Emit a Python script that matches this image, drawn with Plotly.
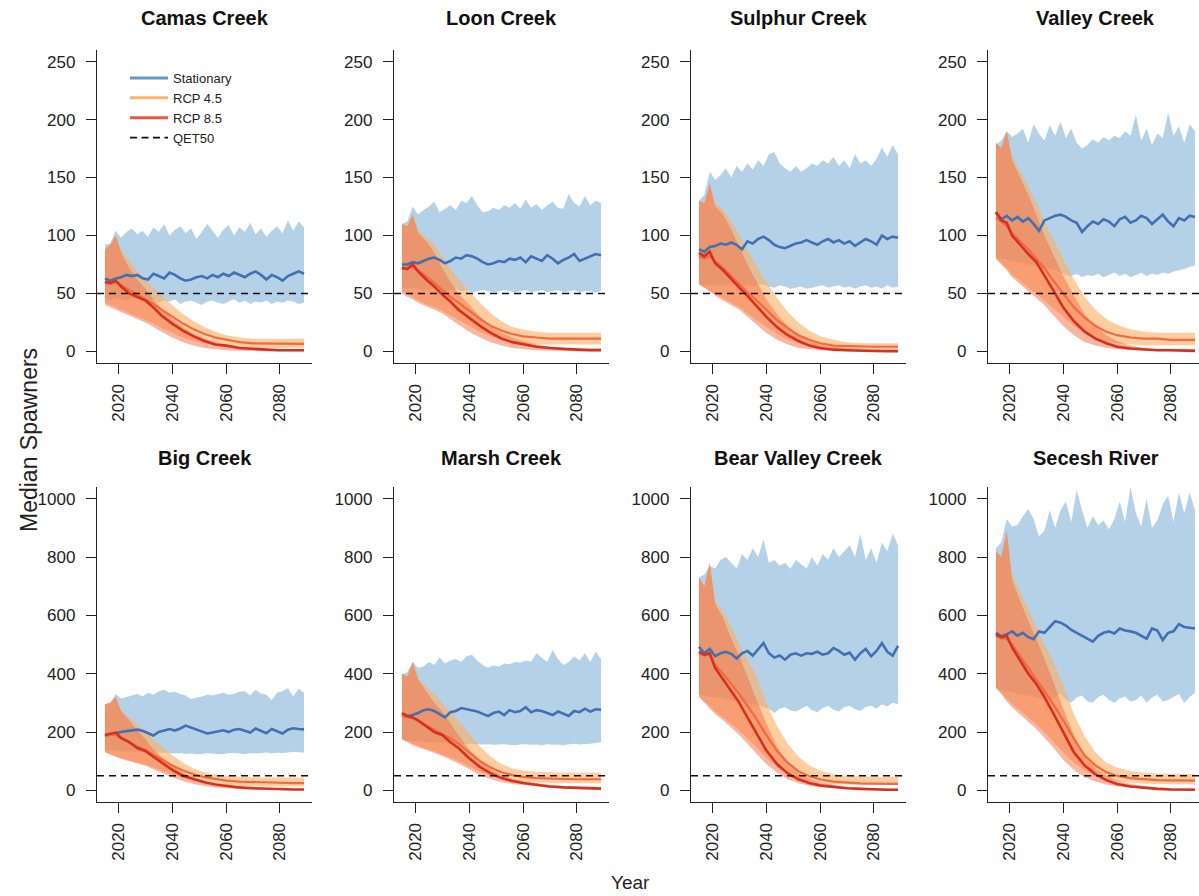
import plotly.graph_objects as go

# ---------------- data ----------------
STAT_YEARS = list(range(2015, 2090, 2))  # 38 years
RCP_YEARS = [2015, 2017, 2019, 2021, 2024, 2027, 2030, 2033, 2036, 2040,
             2044, 2048, 2052, 2056, 2060, 2065, 2070, 2075, 2080, 2085, 2089]

PANEL_NAMES = ["Camas Creek", "Loon Creek", "Sulphur Creek", "Valley Creek",
               "Big Creek", "Marsh Creek", "Bear Valley Creek", "Secesh River"]
QET50 = 50
TOP_YTICKS = [0, 50, 100, 150, 200, 250]
BOT_YTICKS = [0, 200, 400, 600, 800, 1000]
XTICKS = [2020, 2040, 2060, 2080]

# Camas Creek
CAMAS_STAT_MED = [63, 61, 63, 64, 66, 65, 66, 63, 62, 67, 65, 63, 68, 66, 63, 61, 62, 64, 65, 63,
                  66, 64, 67, 65, 68, 66, 64, 67, 69, 66, 62, 66, 64, 61, 65, 67, 69, 67]
CAMAS_STAT_HI = [92, 93, 104, 98, 103, 106, 101, 104, 99, 107, 103, 110, 100, 105, 108, 102, 106, 97, 103, 110,
                 104, 98, 105, 109, 100, 107, 103, 111, 101, 106, 99, 104, 108, 102, 113, 104, 112, 107]
CAMAS_STAT_LO = [45, 44, 46, 45, 44, 46, 45, 43, 44, 45, 42, 44, 43, 45, 41, 43, 44, 42, 40, 43,
                 44, 42, 41, 43, 45, 42, 44, 41, 43, 42, 44, 41, 43, 42, 44, 43, 41, 42]
CAMAS_R85_MED = [60, 59, 61, 56, 50, 47, 44, 38, 31, 24, 18, 13, 9, 6, 5, 3, 2, 1.5, 1, 1, 1]
CAMAS_R45_MED = [59, 58, 60, 57, 53, 49, 45, 41, 36, 30, 24, 19, 15, 12, 10, 8, 7, 7, 7, 6.5, 6.5]
CAMAS_R85_HI = [88, 92, 100, 85, 72, 62, 54, 45, 37, 28, 21, 15, 11, 8, 6, 4, 3, 2.5, 2, 2, 2]
CAMAS_R45_HI = [88, 92, 100, 88, 78, 69, 62, 55, 48, 40, 32, 26, 21, 17, 14, 12, 11, 11, 11, 11, 11]
CAMAS_R85_LO = [40, 38, 36, 34, 31, 28, 25, 21, 17, 12, 8, 5, 3, 2, 1, 0.5, 0.3, 0.2, 0.1, 0.1, 0.1]
CAMAS_R45_LO = [42, 40, 38, 36, 33, 30, 27, 24, 20, 16, 12, 9, 7, 5, 4, 3.5, 3, 3, 3, 3, 3]

# Loon Creek
LOON_STAT_MED = [75, 75, 77, 76, 78, 80, 81, 79, 76, 78, 81, 80, 83, 82, 80, 77, 75, 76, 78, 77,
                 80, 79, 81, 77, 82, 80, 78, 83, 80, 76, 79, 81, 84, 78, 80, 82, 84, 83]
LOON_STAT_HI = [110, 112, 125, 118, 122, 125, 129, 120, 123, 126, 122, 130, 128, 134, 126, 120, 121, 124, 122, 126,
                124, 128, 123, 131, 124, 127, 122, 126, 129, 124, 123, 136, 128, 125, 134, 126, 130, 128]
LOON_STAT_LO = [55, 54, 55, 54, 53, 54, 55, 53, 52, 53, 54, 52, 53, 51, 52, 53, 52, 51, 52, 53,
                52, 51, 52, 53, 51, 52, 53, 51, 52, 53, 51, 52, 53, 51, 52, 52, 51, 52]
LOON_R85_MED = [72, 71, 75, 69, 62, 56, 49, 43, 36, 29, 22, 16, 11, 8, 6, 4, 3, 2, 1.5, 1, 1]
LOON_R45_MED = [72, 72, 73, 70, 65, 59, 53, 47, 42, 35, 28, 22, 18, 15, 13, 12, 11, 11, 11, 11, 11]
LOON_R85_HI = [110, 108, 118, 102, 95, 85, 72, 60, 50, 40, 30, 22, 16, 12, 9, 6, 4, 3, 3, 3, 3]
LOON_R45_HI = [110, 108, 118, 105, 98, 92, 82, 72, 62, 52, 42, 33, 26, 21, 19, 17, 16, 16, 16, 16, 16]
LOON_R85_LO = [50, 47, 45, 42, 39, 36, 33, 28, 23, 17, 12, 8, 5, 3, 2, 1, 0.5, 0.3, 0.2, 0.2, 0.2]
LOON_R45_LO = [52, 49, 47, 44, 41, 38, 35, 31, 27, 22, 17, 13, 10, 8, 7, 6, 6, 6, 6, 6, 6]

# Sulphur Creek
SULPHUR_STAT_MED = [88, 86, 90, 91, 93, 92, 94, 92, 88, 95, 93, 97, 99, 96, 92, 90, 89, 91, 93, 94,
                    96, 94, 92, 95, 97, 94, 96, 93, 95, 91, 94, 97, 95, 92, 100, 97, 99, 98]
SULPHUR_STAT_HI = [130, 135, 155, 148, 152, 158, 150, 160, 155, 162, 157, 165, 160, 170, 172, 162, 158, 155, 160, 155,
                   158, 162, 160, 165, 162, 168, 160, 165, 158, 170, 162, 165, 160, 166, 176, 168, 178, 170]
SULPHUR_STAT_LO = [58, 57, 58, 57, 56, 57, 58, 56, 57, 58, 56, 57, 58, 56, 55, 57, 56, 54, 55, 56,
                   54, 55, 56, 57, 55, 56, 57, 55, 56, 54, 56, 57, 55, 56, 54, 57, 55, 56]
SULPHUR_R85_MED = [85, 82, 86, 76, 70, 62, 55, 48, 40, 30, 21, 14, 9, 5, 3, 1.5, 1, 0.5, 0.3, 0.2, 0.2]
SULPHUR_R45_MED = [82, 80, 82, 78, 72, 65, 58, 51, 45, 36, 27, 20, 14, 10, 7, 5, 4.5, 4, 4, 4, 4]
SULPHUR_R85_HI = [130, 128, 145, 125, 118, 105, 90, 75, 62, 45, 32, 22, 14, 9, 6, 4, 3, 2, 2, 2, 2]
SULPHUR_R45_HI = [130, 128, 145, 128, 122, 112, 100, 88, 75, 60, 46, 34, 25, 18, 13, 10, 8, 7, 7, 7, 7]
SULPHUR_R85_LO = [58, 55, 52, 48, 44, 40, 36, 30, 24, 16, 10, 6, 3, 2, 1, 0.5, 0.2, 0.1, 0.1, 0.1, 0.1]
SULPHUR_R45_LO = [58, 55, 52, 49, 46, 42, 38, 33, 28, 21, 15, 10, 7, 5, 3, 2, 2, 2, 2, 2, 2]

# Valley Creek
VALLEY_STAT_MED = [120, 114, 117, 113, 116, 112, 115, 110, 104, 113, 115, 117, 118, 116, 113, 111, 103, 108, 112, 110,
                   114, 112, 108, 114, 116, 111, 113, 117, 115, 110, 114, 118, 112, 108, 115, 113, 117, 116]
VALLEY_STAT_HI = [178, 182, 190, 185, 188, 192, 180, 196, 188, 182, 195, 186, 198, 184, 192, 180, 175, 178, 183, 180,
                  185, 182, 186, 184, 190, 186, 204, 182, 192, 178, 188, 184, 206, 186, 194, 180, 196, 190]
VALLEY_STAT_LO = [82, 80, 79, 78, 77, 76, 75, 74, 73, 72, 71, 70, 68, 66, 65, 67, 64, 66, 65, 67,
                  64, 66, 68, 65, 67, 64, 66, 68, 65, 67, 66, 68, 67, 69, 70, 71, 73, 74]
VALLEY_R85_MED = [120, 113, 111, 100, 92, 84, 77, 66, 54, 38, 26, 17, 11, 7, 4, 2.5, 1.5, 1, 1, 0.5, 0.5]
VALLEY_R45_MED = [115, 112, 108, 102, 95, 88, 80, 72, 62, 50, 38, 29, 22, 17, 14, 12, 11, 11, 10, 10, 10]
VALLEY_R85_HI = [180, 175, 190, 165, 150, 135, 118, 100, 85, 65, 48, 32, 22, 14, 9, 5, 3, 2, 2, 2, 2]
VALLEY_R45_HI = [180, 175, 190, 168, 155, 142, 128, 112, 98, 80, 62, 47, 36, 28, 23, 19, 17, 16, 16, 16, 16]
VALLEY_R85_LO = [80, 75, 70, 64, 58, 52, 46, 40, 32, 22, 14, 8, 5, 3, 2, 1, 0.5, 0.3, 0.2, 0.2, 0.2]
VALLEY_R45_LO = [80, 76, 72, 66, 61, 55, 50, 44, 38, 30, 22, 16, 11, 8, 7, 6, 5, 5, 5, 5, 5]

# Big Creek
BIG_STAT_MED = [188, 192, 198, 200, 203, 205, 208, 204, 195, 188, 200, 206, 210, 205, 212, 222, 215, 208, 200, 195,
                198, 203, 206, 200, 208, 210, 203, 198, 212, 204, 196, 210, 202, 195, 208, 213, 210, 209]
BIG_STAT_HI = [295, 300, 330, 315, 320, 325, 330, 322, 335, 328, 340, 345, 335, 338, 330, 325, 312, 318, 322, 328,
               325, 330, 335, 328, 330, 338, 340, 325, 345, 332, 328, 310, 335, 340, 350, 322, 348, 335]
BIG_STAT_LO = [140, 138, 136, 135, 134, 133, 132, 131, 130, 130, 129, 128, 127, 126, 128, 125, 126, 124, 125, 127,
               126, 124, 125, 127, 128, 126, 125, 127, 126, 128, 130, 127, 129, 128, 130, 132, 131, 130]
BIG_R85_MED = [190, 195, 198, 180, 165, 145, 135, 115, 95, 70, 50, 38, 28, 20, 15, 10, 7, 5, 4, 3, 3]
BIG_R45_MED = [185, 190, 190, 178, 165, 150, 138, 122, 105, 85, 68, 55, 45, 38, 33, 30, 28, 27, 26, 25, 25]
BIG_R85_HI = [295, 300, 320, 270, 240, 205, 175, 140, 115, 85, 60, 42, 30, 22, 16, 11, 8, 6, 5, 5, 5]
BIG_R45_HI = [295, 300, 320, 275, 250, 225, 200, 175, 150, 120, 95, 75, 62, 55, 50, 47, 45, 44, 44, 44, 44]
BIG_R85_LO = [130, 122, 115, 108, 100, 92, 84, 72, 60, 45, 32, 22, 15, 10, 7, 4, 3, 2, 1, 1, 1]
BIG_R45_LO = [132, 125, 118, 110, 103, 96, 88, 78, 68, 55, 42, 32, 25, 20, 17, 15, 14, 13, 13, 13, 13]

# Marsh Creek
MARSH_STAT_MED = [262, 255, 258, 265, 275, 278, 272, 262, 250, 268, 272, 282, 278, 276, 270, 262, 255, 265, 270, 258,
                  275, 268, 272, 285, 268, 275, 272, 265, 258, 270, 262, 255, 272, 268, 280, 270, 278, 276]
MARSH_STAT_HI = [398, 405, 440, 420, 425, 440, 430, 455, 435, 445, 450, 440, 460, 465, 445, 430, 420, 428, 425, 435,
                 432, 440, 438, 445, 442, 470, 455, 440, 480, 450, 430, 440, 460, 445, 470, 440, 475, 450]
MARSH_STAT_LO = [175, 172, 170, 168, 167, 166, 165, 164, 163, 162, 161, 160, 159, 160, 158, 157, 158, 156, 157, 158,
                 156, 155, 157, 158, 156, 157, 155, 158, 156, 157, 155, 158, 160, 157, 159, 160, 162, 165]
MARSH_R85_MED = [265, 255, 250, 240, 220, 200, 190, 165, 145, 110, 80, 58, 42, 32, 25, 18, 13, 10, 8, 6, 6]
MARSH_R45_MED = [255, 250, 248, 238, 225, 210, 195, 178, 160, 130, 100, 78, 62, 52, 46, 42, 40, 38, 38, 38, 38]
MARSH_R85_HI = [400, 390, 440, 380, 340, 300, 270, 230, 190, 140, 100, 72, 52, 40, 32, 24, 18, 14, 12, 10, 10]
MARSH_R45_HI = [400, 390, 440, 385, 355, 330, 300, 270, 240, 195, 150, 115, 90, 75, 68, 64, 62, 60, 60, 60, 60]
MARSH_R85_LO = [175, 165, 155, 148, 138, 128, 118, 105, 92, 72, 52, 38, 28, 22, 18, 13, 10, 7, 5, 4, 4]
MARSH_R45_LO = [175, 168, 160, 152, 142, 133, 123, 112, 100, 82, 64, 50, 40, 34, 30, 27, 25, 24, 24, 24, 24]

# Bear Valley Creek
BEAR_STAT_MED = [492, 470, 485, 460, 470, 475, 468, 452, 470, 478, 462, 485, 505, 470, 455, 462, 448, 465, 470, 462,
                 470, 468, 475, 465, 470, 488, 478, 465, 472, 448, 470, 485, 460, 478, 505, 475, 462, 495]
BEAR_STAT_HI = [730, 740, 770, 760, 790, 800, 780, 760, 810, 790, 830, 800, 860, 780, 790, 770, 780, 760, 790, 775,
                760, 800, 770, 810, 790, 830, 800, 820, 840, 800, 880, 790, 830, 780, 850, 820, 880, 840]
BEAR_STAT_LO = [330, 325, 320, 318, 315, 312, 310, 305, 300, 298, 295, 290, 285, 280, 265, 280, 285, 275, 270, 280,
                290, 275, 268, 282, 290, 276, 270, 285, 290, 278, 272, 286, 290, 280, 295, 288, 300, 295]
BEAR_R85_MED = [475, 465, 470, 420, 380, 340, 300, 250, 200, 137, 90, 58, 38, 25, 17, 11, 7, 5, 3, 2, 2]
BEAR_R45_MED = [470, 462, 465, 430, 400, 365, 330, 290, 250, 190, 135, 95, 65, 48, 38, 30, 26, 24, 23, 22, 22]
BEAR_R85_HI = [730, 700, 780, 640, 590, 520, 460, 390, 320, 230, 150, 95, 60, 40, 28, 18, 12, 9, 7, 6, 6]
BEAR_R45_HI = [730, 700, 780, 650, 610, 560, 500, 450, 400, 300, 220, 160, 115, 85, 68, 56, 50, 48, 47, 46, 46]
BEAR_R85_LO = [320, 300, 280, 262, 240, 215, 190, 160, 130, 90, 60, 38, 24, 16, 11, 7, 5, 3, 2, 2, 2]
BEAR_R45_LO = [325, 305, 290, 270, 250, 228, 205, 178, 150, 112, 80, 58, 42, 32, 26, 21, 19, 18, 18, 18, 18]

# Secesh River
SECESH_STAT_MED = [540, 528, 535, 545, 530, 540, 525, 518, 545, 540, 560, 580, 575, 565, 550, 540, 528, 520, 510, 530,
                   540, 545, 538, 555, 548, 545, 540, 530, 520, 555, 548, 515, 540, 545, 570, 560, 558, 555]
SECESH_STAT_HI = [830, 850, 930, 905, 910, 940, 965, 930, 870, 890, 960, 900, 960, 990, 920, 1030, 960, 900, 940, 910,
                  925, 895, 930, 990, 920, 1040, 950, 905, 1000, 900, 925, 980, 1010, 920, 1020, 950, 1020, 960]
SECESH_STAT_LO = [350, 345, 340, 336, 332, 328, 325, 320, 316, 313, 310, 320, 330, 310, 300, 318, 325, 305, 300, 320,
                  328, 310, 300, 315, 322, 305, 310, 325, 300, 318, 328, 305, 310, 320, 330, 300, 320, 335]
SECESH_R85_MED = [535, 525, 530, 490, 445, 400, 365, 320, 270, 200, 130, 85, 55, 35, 22, 13, 8, 5, 3, 2, 2]
SECESH_R45_MED = [530, 520, 520, 500, 460, 420, 380, 340, 300, 240, 175, 120, 85, 62, 50, 42, 38, 35, 34, 33, 33]
SECESH_R85_HI = [820, 800, 890, 720, 650, 580, 520, 450, 380, 280, 190, 120, 75, 50, 35, 22, 15, 10, 8, 7, 7]
SECESH_R45_HI = [820, 800, 890, 740, 680, 620, 560, 500, 450, 360, 260, 185, 130, 95, 78, 66, 60, 58, 57, 56, 56]
SECESH_R85_LO = [350, 330, 305, 285, 260, 235, 210, 180, 150, 105, 70, 45, 30, 20, 14, 9, 6, 4, 3, 2, 2]
SECESH_R45_LO = [355, 335, 315, 295, 275, 250, 225, 200, 170, 130, 95, 68, 50, 38, 31, 26, 23, 22, 21, 21, 21]

PANELS = [
    (CAMAS_STAT_MED, CAMAS_STAT_HI, CAMAS_STAT_LO, CAMAS_R45_MED, CAMAS_R45_HI, CAMAS_R45_LO, CAMAS_R85_MED, CAMAS_R85_HI, CAMAS_R85_LO),
    (LOON_STAT_MED, LOON_STAT_HI, LOON_STAT_LO, LOON_R45_MED, LOON_R45_HI, LOON_R45_LO, LOON_R85_MED, LOON_R85_HI, LOON_R85_LO),
    (SULPHUR_STAT_MED, SULPHUR_STAT_HI, SULPHUR_STAT_LO, SULPHUR_R45_MED, SULPHUR_R45_HI, SULPHUR_R45_LO, SULPHUR_R85_MED, SULPHUR_R85_HI, SULPHUR_R85_LO),
    (VALLEY_STAT_MED, VALLEY_STAT_HI, VALLEY_STAT_LO, VALLEY_R45_MED, VALLEY_R45_HI, VALLEY_R45_LO, VALLEY_R85_MED, VALLEY_R85_HI, VALLEY_R85_LO),
    (BIG_STAT_MED, BIG_STAT_HI, BIG_STAT_LO, BIG_R45_MED, BIG_R45_HI, BIG_R45_LO, BIG_R85_MED, BIG_R85_HI, BIG_R85_LO),
    (MARSH_STAT_MED, MARSH_STAT_HI, MARSH_STAT_LO, MARSH_R45_MED, MARSH_R45_HI, MARSH_R45_LO, MARSH_R85_MED, MARSH_R85_HI, MARSH_R85_LO),
    (BEAR_STAT_MED, BEAR_STAT_HI, BEAR_STAT_LO, BEAR_R45_MED, BEAR_R45_HI, BEAR_R45_LO, BEAR_R85_MED, BEAR_R85_HI, BEAR_R85_LO),
    (SECESH_STAT_MED, SECESH_STAT_HI, SECESH_STAT_LO, SECESH_R45_MED, SECESH_R45_HI, SECESH_R45_LO, SECESH_R85_MED, SECESH_R85_HI, SECESH_R85_LO),
]

# ---------------- styling ----------------
W, H = 1199, 896
FONT = "Liberation Sans, Arial, Helvetica, sans-serif"
STAT_BAND = "rgba(107,163,210,0.5)"
R45_BAND = "rgba(253,174,97,0.6)"
R85_BAND = "rgba(244,109,67,0.5)"
STAT_LINE = "#4170b3"
R45_LINE = "#f26a42"
R85_LINE = "#d7301f"
AXC = "#222222"

COL_LEFT = [97, 394, 691, 988]
PLOT_W = 215
ROWS = [(50, 363), (487, 802)]
XR0, XR1 = 2012.04, 2091.96
YRANGES = [(-10, 260), (-40, 1040)]

fig = go.Figure()
layout = dict(width=W, height=H, margin=dict(l=0, r=0, t=0, b=0),
              paper_bgcolor="white", plot_bgcolor="white", showlegend=True,
              font=dict(family=FONT, color=AXC))
annotations = []


def band(xs, hi, lo):
    return list(xs) + list(xs)[::-1], list(hi) + list(lo)[::-1]


for i, (name, data) in enumerate(zip(PANEL_NAMES, PANELS)):
    r, c = divmod(i, 4)
    k = i + 1
    ax = "" if k == 1 else str(k)
    xa, ya = "x" + ax, "y" + ax
    left = COL_LEFT[c]
    right = min(left + PLOT_W, W)
    xr1 = XR0 + (right - left) / PLOT_W * (XR1 - XR0)
    top, bot = ROWS[r]
    layout["xaxis" + ax] = dict(
        domain=[left / W, right / W], anchor=ya, range=[XR0, xr1],
        tickvals=XTICKS, ticktext=[str(t) for t in XTICKS], tickangle=-90,
        ticks="outside", ticklen=10, tickwidth=1.2, tickcolor=AXC, ticklabelstandoff=3,
        showline=True, linecolor=AXC, linewidth=1.3, showgrid=False, zeroline=False,
        tickfont=dict(size=17, family=FONT, color=AXC))
    yr = YRANGES[r]
    layout["yaxis" + ax] = dict(
        domain=[1 - bot / H, 1 - top / H], anchor=xa, range=list(yr),
        tickvals=TOP_YTICKS if r == 0 else BOT_YTICKS,
        ticks="outside", ticklen=10, tickwidth=1.2, tickcolor=AXC, ticklabelstandoff=7,
        showline=True, linecolor=AXC, linewidth=1.3, showgrid=False, zeroline=False,
        tickfont=dict(size=17, family=FONT, color=AXC))

    smed, shi, slo, m45, h45, l45, m85, h85, l85 = data
    for xs, hi, lo, col in [(STAT_YEARS, shi, slo, STAT_BAND),
                            (RCP_YEARS, h45, l45, R45_BAND),
                            (RCP_YEARS, h85, l85, R85_BAND)]:
        bx, by = band(xs, hi, lo)
        fig.add_trace(go.Scatter(x=bx, y=by, fill="toself", fillcolor=col, mode="none",
                                 line=dict(width=0), xaxis=xa, yaxis=ya, showlegend=False,
                                 hoverinfo="skip"))
    fig.add_trace(go.Scatter(x=STAT_YEARS, y=smed, mode="lines", line=dict(color=STAT_LINE, width=2.6),
                             xaxis=xa, yaxis=ya, showlegend=False))
    fig.add_trace(go.Scatter(x=RCP_YEARS, y=m45, mode="lines", line=dict(color=R45_LINE, width=2.2),
                             xaxis=xa, yaxis=ya, showlegend=False))
    fig.add_trace(go.Scatter(x=RCP_YEARS, y=m85, mode="lines", line=dict(color=R85_LINE, width=2.6),
                             xaxis=xa, yaxis=ya, showlegend=False))
    fig.add_trace(go.Scatter(x=[XR0, xr1], y=[QET50, QET50], mode="lines",
                             line=dict(color="#111111", width=1.4, dash="7px,5px"),
                             xaxis=xa, yaxis=ya, showlegend=False, hoverinfo="skip"))

    annotations.append(dict(text="<b>%s</b>" % name, xref="paper", yref="paper",
                            x=(left + PLOT_W / 2) / W, y=1 - (18 if r == 0 else 458) / H,
                            xanchor="center", yanchor="middle", showarrow=False,
                            font=dict(size=20, family=FONT, color="#111111")))

# legend entries (drawn inside the first panel)
for lname, lcol, ldash in [("Stationary", "#5f99d0", "solid"), ("RCP 4.5", "#fdb46c", "solid"),
                           ("RCP 8.5", "#ea5b3a", "solid"), ("QET50", "#111111", "7px,4.5px")]:
    fig.add_trace(go.Scatter(x=[None], y=[None], mode="lines", name=lname,
                             line=dict(color=lcol, width=1.6 if ldash != "solid" else 3, dash=ldash),
                             xaxis="x", yaxis="y", showlegend=True))

layout["legend"] = dict(x=125 / W, y=1 - 63 / H, xanchor="left", yanchor="top",
                        bgcolor="rgba(0,0,0,0)", font=dict(size=13, family=FONT, color="#222222"),
                        itemwidth=38, tracegroupgap=0)

annotations.append(dict(text="Median Spawners", xref="paper", yref="paper", x=29 / W, y=1 - 440 / H,
                        textangle=-90, xanchor="center", yanchor="middle", showarrow=False,
                        font=dict(size=23, family=FONT, color="#222222")))
annotations.append(dict(text="Year", xref="paper", yref="paper", x=630 / W, y=1 - 882 / H,
                        xanchor="center", yanchor="middle", showarrow=False,
                        font=dict(size=19, family=FONT, color="#222222")))
layout["annotations"] = annotations
fig.update_layout(**layout)

fig.write_html("out.html", config={"displayModeBar": False},
               post_script="document.body.style.margin='0';document.body.style.overflow='hidden';")
